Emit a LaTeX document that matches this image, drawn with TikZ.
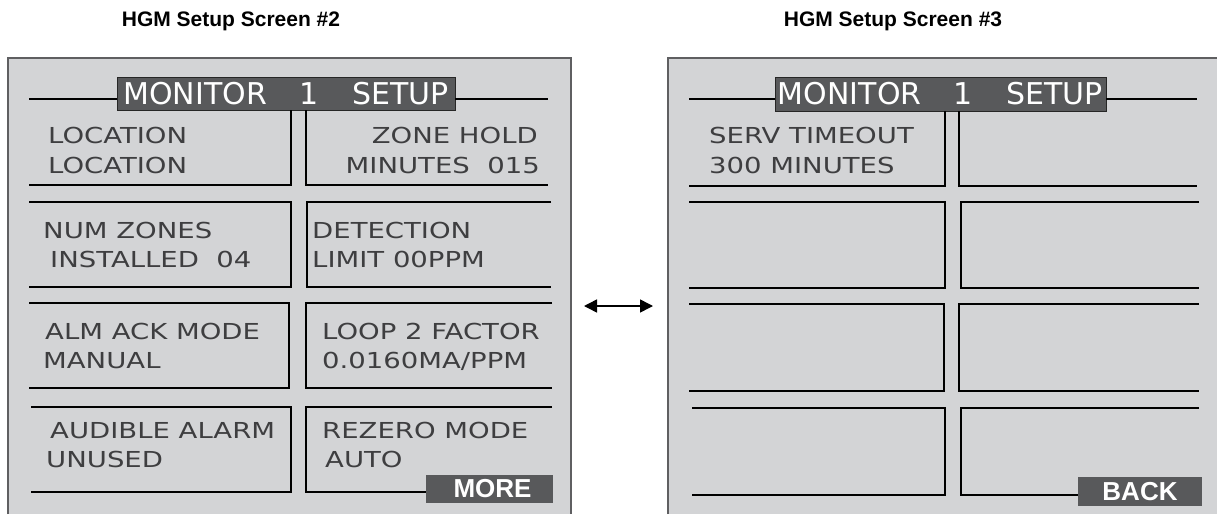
\documentclass[tikz,border=0pt]{standalone}
\usepackage{fontspec}
\usetikzlibrary{arrows.meta}
\newfontfamily\lcdfont[FakeStretch=1.25]{DejaVu Sans}
\newfontfamily\barfont{DejaVu Sans}
\newfontfamily\headfont{Liberation Sans}
\definecolor{screengray}{RGB}{211,212,214}
\definecolor{framegray}{RGB}{95,95,97}
\definecolor{barfill}{RGB}{88,89,91}
\definecolor{lcdtext}{RGB}{62,62,64}
\tikzset{
  screen/.style={draw=framegray, line width=1.6pt},
  cellline/.style={draw=black, line width=1.3pt},
  lcd/.style={font=\lcdfont\fontsize{22}{26}\selectfont, text=lcdtext, inner sep=0pt, anchor=base west},
  lcdright/.style={lcd, anchor=base east},
  titlebar/.style={fill=barfill, draw=black!85, line width=0.8pt, text=white,
    font=\barfont\fontsize{30}{34}\selectfont, inner sep=0pt},
  softkey/.style={fill=barfill, text=white, font=\headfont\bfseries\fontsize{26}{30}\selectfont, inner sep=0pt},
  heading/.style={font=\headfont\bfseries\fontsize{21}{25}\selectfont, inner sep=0pt, anchor=base}
}

\begin{document}
\begin{tikzpicture}[x=1pt, y=-1pt]
  \useasboundingbox (0,0) rectangle (1217,514);
  \node[heading] (head2) at (231,26) {HGM Setup Screen \#2};
  \node[heading] (head3) at (893,26) {HGM Setup Screen \#3};

  \fill[screengray] (8,58) rectangle (571,514);
  \draw[screen] (8,514) |- (571,58) -- (571,514);
  \fill[screengray] (668,58) rectangle (1217,514);
  \draw[screen] (668,514) |- (1217,58);

  \node[titlebar, minimum width=338pt, minimum height=33pt] (bar2) at (286,93.5) {MONITOR\hspace{32pt}1\hspace{34pt}SETUP};
  \draw[cellline] (29,99) -- (117,99);
  \draw[cellline] (455,99) -- (548,99);
  \draw[cellline] (291,110) -- (291,185) -- (29,185);
  \draw[cellline] (306,110) -- (306,185) -- (548,185);
  \draw[cellline] (29,202) -| (291,287) -- (29,287);
  \draw[cellline] (551,202) -| (307,287) -- (551,287);
  \draw[cellline] (29,303) -| (289,388) -- (29,388);
  \draw[cellline] (552,303) -| (306,388) -- (552,388);
  \draw[cellline] (31,407) -| (291,492) -- (31,492);
  \draw[cellline] (552,407) -| (306,492) -- (426,492);
  \node[softkey, minimum width=127pt, minimum height=28pt] (more) at (489.5,489) {\hspace{6pt}MORE};

  \node[lcd] (loca) at (48,143) {LOCATION};
  \node[lcd] (locb) at (48,173) {LOCATION};
  \node[lcdright] (holda) at (538,143) {ZONE HOLD};
  \node[lcdright] (holdb) at (540,173) {MINUTES\ \ 015};
  \node[lcd] (zonesa) at (43,238) {NUM ZONES};
  \node[lcd] (zonesb) at (50,267) {INSTALLED\ \ 04};
  \node[lcd] (deta) at (312,238) {DETECTION};
  \node[lcd] (detb) at (312,267) {LIMIT 00PPM};
  \node[lcd] (acka) at (45,339) {ALM ACK MODE};
  \node[lcd] (ackb) at (43,368) {MANUAL};
  \node[lcd] (loopa) at (322,339) {LOOP 2 FACTOR};
  \node[lcd] (loopb) at (322,368) {0.0160MA/PPM};
  \node[lcd] (alarma) at (50,438) {AUDIBLE ALARM};
  \node[lcd] (alarmb) at (46,467) {UNUSED};
  \node[lcd] (rezeroa) at (322,438) {REZERO MODE};
  \node[lcd] (rezerob) at (325,467) {AUTO};

  \node[titlebar, minimum width=331pt, minimum height=34pt] (bar3) at (940.5,94) {MONITOR\hspace{32pt}1\hspace{34pt}SETUP};
  \draw[cellline] (689,99) -- (775,99);
  \draw[cellline] (1106,99) -- (1197,99);
  \draw[cellline] (945,111) -- (945,186) -- (689,186);
  \draw[cellline] (959,111) -- (959,186) -- (1197,186);
  \draw[cellline] (689,202) -| (945,288) -- (689,288);
  \draw[cellline] (1199,202) -| (961,288) -- (1199,288);
  \draw[cellline] (689,304) -| (944,391) -- (689,391);
  \draw[cellline] (1199,304) -| (959,391) -- (1199,391);
  \draw[cellline] (692,408) -| (945,495) -- (692,495);
  \draw[cellline] (1199,408) -| (961,495) -- (1078,495);
  \node[softkey, minimum width=124pt, minimum height=29pt] (back) at (1140,491.5) {BACK};

  \node[lcd] (serva) at (709,143) {SERV TIMEOUT};
  \node[lcd] (servb) at (709,173) {300 MINUTES};

  \coordinate (swapl) at (584,306);
  \coordinate (swapr) at (653,306);
  \draw[line width=1.5pt, {Triangle[length=13pt,width=13pt]}-{Triangle[length=13pt,width=13pt]}] (swapl) -- (swapr);
\end{tikzpicture}
\end{document}
